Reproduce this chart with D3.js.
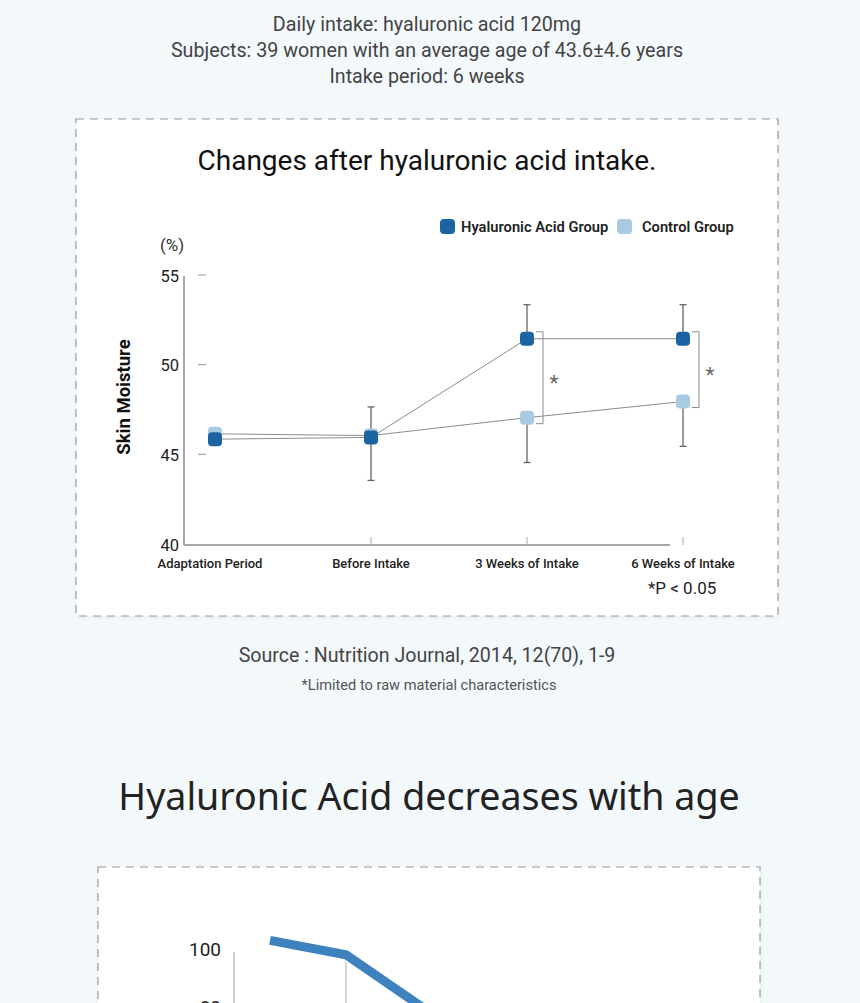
<!DOCTYPE html>
<html>
<head>
<meta charset="utf-8">
<script src="https://cdn.jsdelivr.net/npm/d3@7"></script>
<style>
  html, body { margin:0; padding:0; background:#f3f8fb; }
  svg { display:block; font-family: Roboto, "Noto Sans", sans-serif; }
</style>
</head>
<body>
<svg id="svg"></svg>
<script>
// chart 1 data
var periods = ["Adaptation Period", "Before Intake", "3 Weeks of Intake", "6 Weeks of Intake"];
var haValues = [45.9, 46.0, 51.5, 51.5];
var ctrlValues = [46.2, 46.1, 47.1, 48.0];
var haErr = [0, 1.7, 1.9, 1.9];     // drawn upward
var ctrlErr = [0, 2.5, 2.5, 2.5];   // drawn downward
var sigAt = ["3 Weeks of Intake", "6 Weeks of Intake"];
var yTicks = [40, 45, 50, 55];
var seriesNames = ["Hyaluronic Acid Group", "Control Group"];
var introLines = ["Daily intake: hyaluronic acid 120mg",
                  "Subjects: 39 women with an average age of 43.6\u00b14.6 years",
                  "Intake period: 6 weeks"];

// chart 2 data (only the top of it is on screen)
var ages = ["20s", "30s", "40s"];
var haLevel = [103, 98, 80];
var levelTicks = [100, 80];

var W = 860, H = 1003;
var darkBlue = "#1c64a1", lightBlue = "#a9cbe1";

var svg = d3.select("#svg").attr("width", W).attr("height", H);

svg.append("defs").append("filter").attr("id", "shadow")
  .attr("x", "-5%").attr("y", "-5%").attr("width", "110%").attr("height", "110%")
  .append("feDropShadow").attr("dx", 0).attr("dy", 1).attr("stdDeviation", 2)
  .attr("flood-color", "#000").attr("flood-opacity", 0.06);

// intro text
svg.selectAll(".intro").data(introLines).enter()
  .append("text").attr("class", "intro")
  .attr("x", 427).attr("y", (d, i) => 24 + i * 26)
  .attr("dy", ".35em").attr("text-anchor", "middle")
  .style("font-size", "19.7px").attr("fill", "#444")
  .text(d => d);

// card 1
svg.append("rect").attr("x", 76).attr("y", 119).attr("width", 702).attr("height", 497)
  .attr("fill", "#fff").attr("stroke", "#9a9a9a").attr("stroke-width", 1.2)
  .attr("stroke-dasharray", "8,6").attr("filter", "url(#shadow)");

svg.append("text").attr("x", 427).attr("y", 160).attr("dy", ".35em")
  .attr("text-anchor", "middle").style("font-size", "28px").style("font-weight", 400)
  .attr("fill", "#111").text("Changes after hyaluronic acid intake.");

// legend
var legX = [440, 617];
var leg = svg.selectAll(".leg").data(seriesNames).enter().append("g").attr("class", "leg")
  .attr("transform", (d, i) => `translate(${legX[i]},219)`);
leg.append("rect").attr("width", 15).attr("height", 15).attr("rx", 4)
  .attr("fill", (d, i) => i === 0 ? darkBlue : lightBlue);
leg.append("text").attr("y", 8).attr("dy", ".35em")
  .style("font-size", "14.7px").style("font-weight", 600).attr("fill", "#222")
  .attr("x", (d, i) => i === 0 ? 21 : 25)
  .text(d => d);

var x = d3.scalePoint().domain(periods).range([215, 683]);
var y = d3.scaleLinear().domain([40, 55]).range([545, 276]);

var g = svg.append("g");

// axes lines
g.append("line").attr("x1", 184).attr("x2", 184).attr("y1", y(55)).attr("y2", y(40))
  .attr("stroke", "#8a8a8a").attr("stroke-width", 1.5);
g.append("line").attr("x1", 184).attr("x2", 670).attr("y1", y(40)).attr("y2", y(40))
  .attr("stroke", "#8a8a8a").attr("stroke-width", 1.5);

// y tick labels + the little dashes inside the plot
var yAxis = d3.axisLeft(y).tickValues(yTicks).tickSize(0).tickPadding(4);
var yG = g.append("g").attr("transform", "translate(183,0)").call(yAxis);
yG.select(".domain").remove();
yG.selectAll("text").style("font-size", "16.5px").style("font-family", "Roboto, sans-serif").attr("fill", "#222");
g.selectAll(".ydash").data(yTicks.filter(d => d > 40)).enter()
  .append("line").attr("class", "ydash")
  .attr("x1", 198).attr("x2", 206).attr("y1", d => y(d) - 1).attr("y2", d => y(d) - 1)
  .attr("stroke", "#999").attr("stroke-width", 1);

// x ticks + labels
g.selectAll(".xtick").data(periods.slice(1)).enter()
  .append("line").attr("class", "xtick")
  .attr("x1", d => x(d)).attr("x2", d => x(d)).attr("y1", y(40) - 8).attr("y2", y(40))
  .attr("stroke", "#aaa").attr("stroke-width", 1);
g.selectAll(".xlab").data(periods).enter()
  .append("text").attr("class", "xlab")
  .attr("x", d => x(d) - (d === periods[0] ? 5 : 0)).attr("y", 563).attr("dy", ".35em")
  .attr("text-anchor", "middle").style("font-size", "13px").style("font-weight", 500).attr("fill", "#222")
  .text(d => d);

g.append("text").attr("x", 172).attr("y", 245).attr("dy", ".35em").attr("text-anchor", "middle")
  .style("font-size", "17px").attr("fill", "#333").text("(%)");
g.append("text").attr("transform", "translate(124,397) rotate(-90)").attr("dy", ".35em")
  .attr("text-anchor", "middle").style("font-size", "18.5px").style("font-weight", 700)
  .attr("fill", "#111").text("Skin Moisture");

// connecting lines
var line = d3.line().x(d => x(d.p)).y(d => y(d.v));
[haValues, ctrlValues].forEach(function (vals) {
  g.append("path").datum(periods.map((p, i) => ({p: p, v: vals[i]})))
    .attr("d", line).attr("fill", "none").attr("stroke", "#8c8c8c").attr("stroke-width", 1);
});

// error bars
function errBars(vals, errs, dir) {
  var data = periods.map((p, i) => ({p: p, v: vals[i], e: errs[i]})).filter(d => d.e > 0);
  var eg = g.selectAll(null).data(data).enter().append("g");
  eg.append("line").attr("x1", d => x(d.p)).attr("x2", d => x(d.p))
    .attr("y1", d => y(d.v)).attr("y2", d => y(d.v + dir * d.e))
    .attr("stroke", "#666").attr("stroke-width", 1.3);
  eg.append("line").attr("x1", d => x(d.p) - 3.5).attr("x2", d => x(d.p) + 3.5)
    .attr("y1", d => y(d.v + dir * d.e)).attr("y2", d => y(d.v + dir * d.e))
    .attr("stroke", "#666").attr("stroke-width", 1.3);
}
errBars(haValues, haErr, 1);
errBars(ctrlValues, ctrlErr, -1);

// significance brackets
sigAt.forEach(function (p) {
  var i = periods.indexOf(p);
  var bx = x(p) + 16, top = y(haValues[i]) - 7, bot = y(ctrlValues[i]) + 6;
  g.append("path").attr("d", `M${bx - 7},${top}H${bx}V${bot}H${bx - 7}`)
    .attr("fill", "none").attr("stroke", "#8c8c8c").attr("stroke-width", 1);
  g.append("text").attr("x", bx + 11).attr("y", (top + bot) / 2).attr("dy", ".6em")
    .attr("text-anchor", "middle").style("font-size", "21px").attr("fill", "#666").text("*");
});

// markers (control first, HA on top)
[[ctrlValues, lightBlue], [haValues, darkBlue]].forEach(function (s) {
  g.selectAll(null).data(periods).enter().append("rect")
    .attr("x", d => x(d) - 7).attr("y", (d, i) => y(s[0][i]) - 7)
    .attr("width", 14).attr("height", 14).attr("rx", 4).attr("fill", s[1]);
});

g.append("text").attr("x", 648).attr("y", 588).attr("dy", ".35em")
  .style("font-size", "17px").attr("fill", "#222").text("*P < 0.05");

// source lines
svg.append("text").attr("x", 427).attr("y", 655).attr("dy", ".35em").attr("text-anchor", "middle")
  .style("font-size", "19.6px").attr("fill", "#444").text("Source : Nutrition Journal, 2014, 12(70), 1-9");
svg.append("text").attr("x", 429).attr("y", 685).attr("dy", ".35em").attr("text-anchor", "middle")
  .style("font-size", "14.6px").attr("fill", "#555").text("*Limited to raw material characteristics");

// section 2
svg.append("text").attr("x", 429).attr("y", 797).attr("dy", ".35em").attr("text-anchor", "middle")
  .style("font-size", "37.6px").style("font-family", "'Noto Sans', sans-serif").attr("fill", "#222")
  .text("Hyaluronic Acid decreases with age");

svg.append("rect").attr("x", 98).attr("y", 867).attr("width", 662).attr("height", 300)
  .attr("fill", "#fff").attr("stroke", "#9a9a9a").attr("stroke-width", 1.2)
  .attr("stroke-dasharray", "8,6").attr("filter", "url(#shadow)");

var x2 = d3.scalePoint().domain(ages).range([270, 422]);
var y2 = d3.scaleLinear().domain([80, 100]).range([1007, 949]);

svg.selectAll(".lvl").data(levelTicks).enter().append("text").attr("class", "lvl")
  .attr("x", 221).attr("y", d => y2(d)).attr("dy", ".35em").attr("text-anchor", "end")
  .style("font-size", "19px").attr("fill", "#222").text(d => d);
svg.append("line").attr("x1", 234).attr("x2", 234).attr("y1", 952).attr("y2", H)
  .attr("stroke", "#999").attr("stroke-width", 1);
svg.append("line").attr("x1", x2(ages[1])).attr("x2", x2(ages[1])).attr("y1", 962).attr("y2", H)
  .attr("stroke", "#aaa").attr("stroke-width", 1);
svg.append("path").datum(ages.map((a, i) => ({a: a, v: haLevel[i]})))
  .attr("d", d3.line().x(d => x2(d.a)).y(d => y2(d.v)))
  .attr("fill", "none").attr("stroke", "#3d82be").attr("stroke-width", 9);
</script>
</body>
</html>
